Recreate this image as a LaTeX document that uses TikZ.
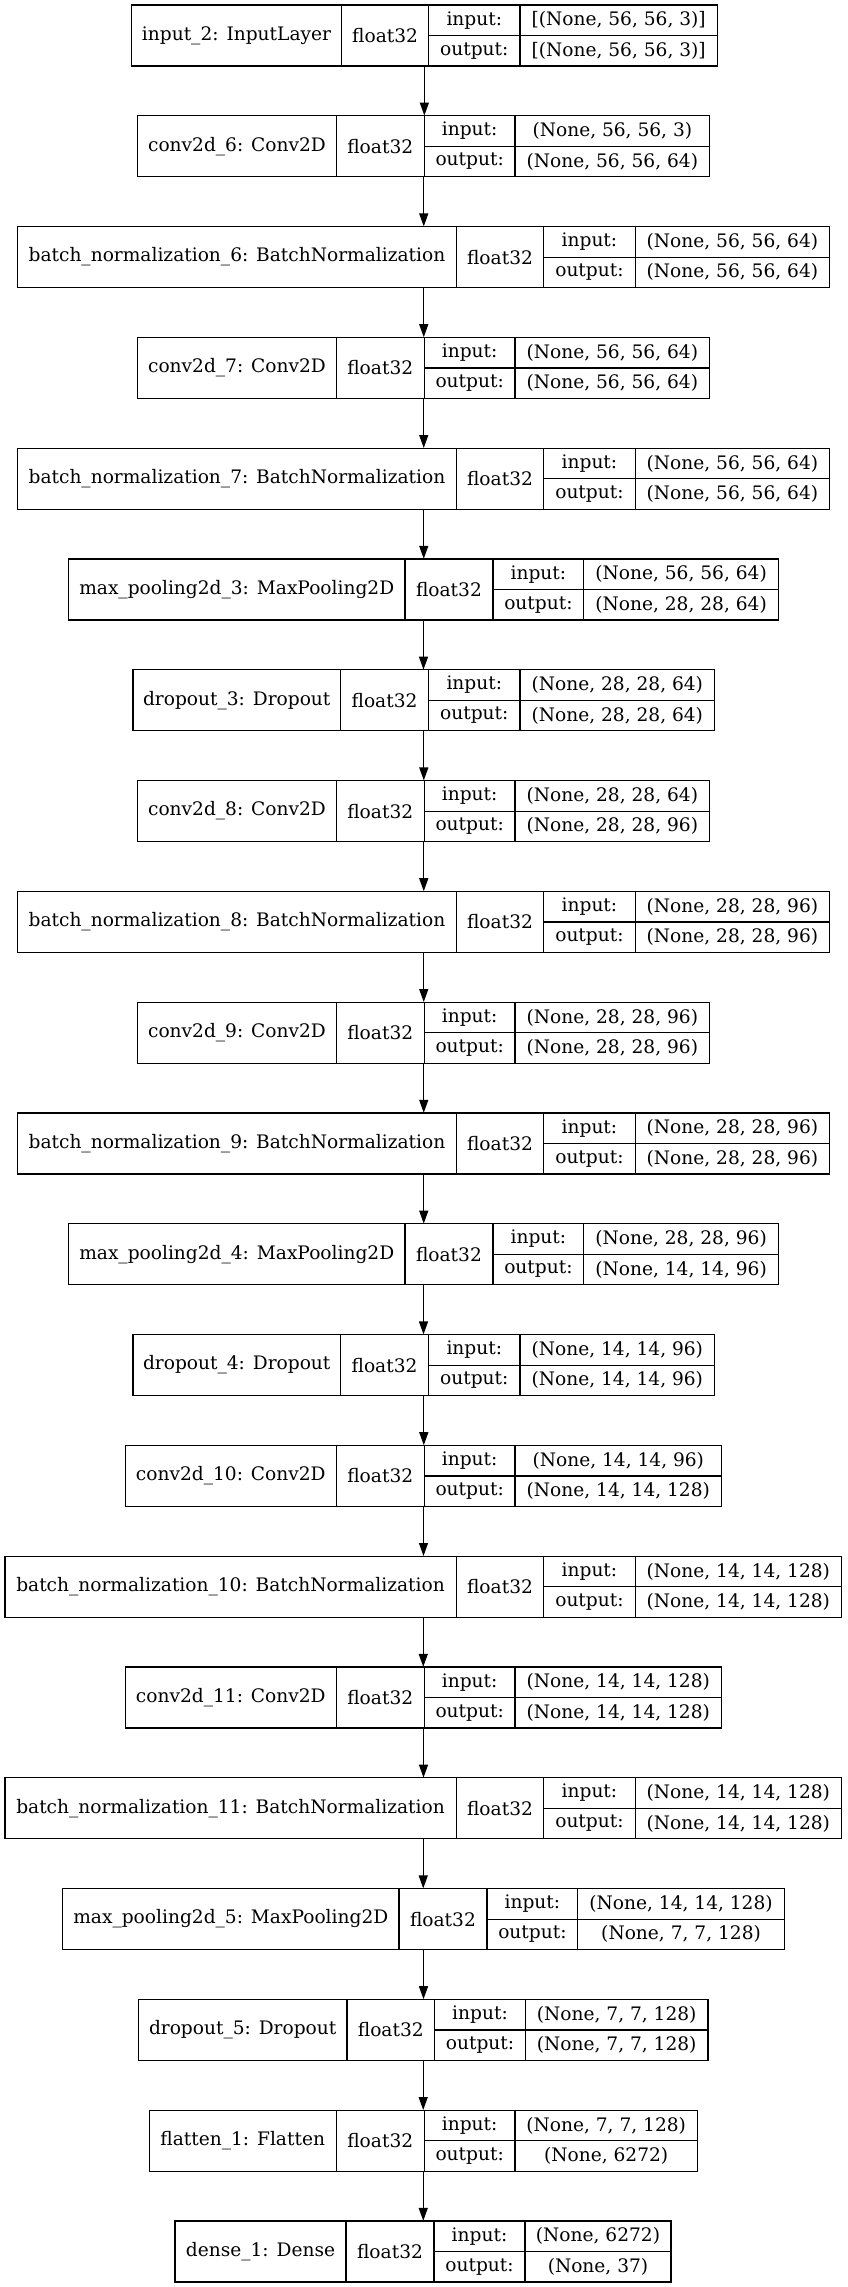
\documentclass[tikz,border=0pt]{standalone}
\usepackage{fontspec}
\setmainfont{DejaVu Serif}
\usetikzlibrary{arrows.meta, positioning}

\begin{document}
\begin{tikzpicture}[x=1pt, y=-1pt,
    field/.style={draw, line width=1.2pt, inner sep=0pt, minimum height=61pt,
      font=\fontsize{18.6pt}{22pt}\selectfont},
    half/.style={field, minimum height=30.5pt},
    flow/.style={line width=1.3pt, -{Triangle[length=13pt, width=9pt]}}
  ]
  \useasboundingbox (0,0) rectangle (847,2287);
  % layers: label / field borders / input shape / output shape
  \foreach \lbl/\xa/\xb/\xc/\xd/\xe/\din/\dout [count=\i from 0] in {
      input\_2: InputLayer/131.4/341.6/428.6/520/717.3/{[(None, 56, 56, 3)]}/{[(None, 56, 56, 3)]},
      conv2d\_6: Conv2D/137.8/336.2/424.3/515/709.7/{(None, 56, 56, 3)}/{(None, 56, 56, 64)},
      batch\_normalization\_6: BatchNormalization/17.8/456.2/543.8/635.1/829.7/{(None, 56, 56, 64)}/{(None, 56, 56, 64)},
      conv2d\_7: Conv2D/137.8/336.2/424.3/515/709.7/{(None, 56, 56, 64)}/{(None, 56, 56, 64)},
      batch\_normalization\_7: BatchNormalization/17.8/456.2/543.8/635.1/829.7/{(None, 56, 56, 64)}/{(None, 56, 56, 64)},
      max\_pooling2d\_3: MaxPooling2D/68.6/404.9/493/583.8/778.4/{(None, 56, 56, 64)}/{(None, 28, 28, 64)},
      dropout\_3: Dropout/133/340.5/428.6/520/714.6/{(None, 28, 28, 64)}/{(None, 28, 28, 64)},
      conv2d\_8: Conv2D/137.8/336.2/424.3/515/709.7/{(None, 28, 28, 64)}/{(None, 28, 28, 96)},
      batch\_normalization\_8: BatchNormalization/17.8/456.2/543.8/635.1/829.7/{(None, 28, 28, 96)}/{(None, 28, 28, 96)},
      conv2d\_9: Conv2D/137.8/336.2/424.3/515/709.7/{(None, 28, 28, 96)}/{(None, 28, 28, 96)},
      batch\_normalization\_9: BatchNormalization/17.8/456.2/543.8/635.1/829.7/{(None, 28, 28, 96)}/{(None, 28, 28, 96)},
      max\_pooling2d\_4: MaxPooling2D/68.6/404.9/493/583.8/778.4/{(None, 28, 28, 96)}/{(None, 14, 14, 96)},
      dropout\_4: Dropout/133/340.5/428.6/520/714.6/{(None, 14, 14, 96)}/{(None, 14, 14, 96)},
      conv2d\_10: Conv2D/125.4/336.2/424.3/515/721.6/{(None, 14, 14, 96)}/{(None, 14, 14, 128)},
      batch\_normalization\_10: BatchNormalization/4.9/456.2/543.8/635.1/841.6/{(None, 14, 14, 128)}/{(None, 14, 14, 128)},
      conv2d\_11: Conv2D/125.4/336.2/424.3/515/721.6/{(None, 14, 14, 128)}/{(None, 14, 14, 128)},
      batch\_normalization\_11: BatchNormalization/4.9/456.2/543.8/635.1/841.6/{(None, 14, 14, 128)}/{(None, 14, 14, 128)},
      max\_pooling2d\_5: MaxPooling2D/62.7/398.9/487/577.8/784.3/{(None, 14, 14, 128)}/{(None, 7, 7, 128)},
      dropout\_5: Dropout/138.4/347/434.6/525.4/708/{(None, 7, 7, 128)}/{(None, 7, 7, 128)},
      flatten\_1: Flatten/149.2/336.2/424.3/515/697.3/{(None, 7, 7, 128)}/{(None, 6272)},
      dense\_1: Dense/175/346/434/525/671/{(None, 6272)}/{(None, 37)}
    }{
    \pgfmathsetmacro{\ym}{35.5+110.8*\i}
    \node[minimum width={(\xe-\xa)*1pt}, minimum height=61pt, inner sep=0pt] (box\i) at ({(\xa+\xe)/2}, \ym) {};
    \node[field, minimum width={(\xb-\xa)*1pt}] (n\i) at ({(\xa+\xb)/2}, \ym) {\lbl};
    \node[field, minimum width={(\xc-\xb)*1pt}] (d\i) at ({(\xb+\xc)/2}, \ym) {float32};
    \node[half, minimum width={(\xd-\xc)*1pt}] (i\i) at ({(\xc+\xd)/2}, \ym-15.25) {input:};
    \node[half, minimum width={(\xd-\xc)*1pt}] (o\i) at ({(\xc+\xd)/2}, \ym+15.25) {output:};
    \node[half, minimum width={(\xe-\xd)*1pt}] (s\i) at ({(\xd+\xe)/2}, \ym-15.25) {\din};
    \node[half, minimum width={(\xe-\xd)*1pt}] (t\i) at ({(\xd+\xe)/2}, \ym+15.25) {\dout};
  }
  % connections
  \foreach \i [evaluate=\i as \j using int(\i+1)] in {0,...,19} {
    \draw[flow] (box\i.south) -- (box\i.south |- box\j.north);
  }
\end{tikzpicture}
\end{document}
